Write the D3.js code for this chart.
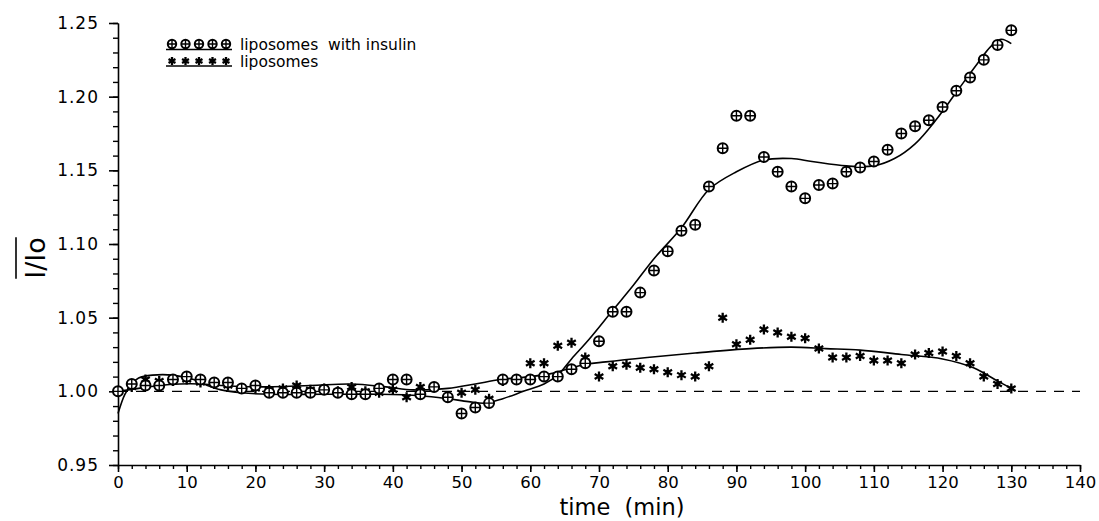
<!DOCTYPE html>
<html><head><meta charset="utf-8">
<script src="https://cdn.jsdelivr.net/npm/d3@7"></script>
<style>
html,body{margin:0;padding:0;background:#fff;}
svg text{font-family:"DejaVu Sans",sans-serif;fill:#000;}
</style></head>
<body><svg id="c" width="1099" height="521"></svg>
<script>
// ---- data ----
const times = d3.range(0, 131, 2);
const insulinValues = [1.000,1.005,1.004,1.004,1.008,1.010,1.008,1.006,1.006,1.002,1.004,0.999,0.999,0.999,0.999,1.001,0.999,0.998,0.998,1.002,1.008,1.008,0.998,1.003,0.996,0.985,0.989,0.992,1.008,1.008,1.008,1.010,1.010,1.015,1.019,1.034,1.054,1.054,1.067,1.082,1.095,1.109,1.113,1.139,1.165,1.187,1.187,1.159,1.149,1.139,1.131,1.140,1.141,1.149,1.152,1.156,1.164,1.175,1.180,1.184,1.193,1.204,1.213,1.225,1.235,1.245];
const liposomeValues = [1.000,1.003,1.008,1.007,1.007,1.008,1.006,1.005,1.004,1.002,1.002,1.001,1.002,1.004,1.001,1.002,1.000,1.003,1.000,0.999,1.001,0.996,1.003,1.003,0.996,0.999,1.001,0.995,1.007,1.008,1.019,1.019,1.031,1.033,1.023,1.010,1.017,1.018,1.016,1.015,1.013,1.011,1.010,1.017,1.050,1.032,1.035,1.042,1.040,1.037,1.036,1.029,1.023,1.023,1.024,1.021,1.021,1.019,1.025,1.026,1.027,1.024,1.019,1.010,1.005,1.002];
const insulinFitT = [0,1,2,3,5,8,11,13,15,18,22,30,38,44,48,51,53.5,56,59,62,64,66,68.5,72,75,78,82,86,90,94,98,101,106,110,113,116,119,122,125,127,128.5,130];
const insulinFitV = [0.985,0.998,1.005,1.009,1.011,1.011,1.008,1.004,1.001,0.999,0.998,0.998,0.998,0.997,0.995,0.993,0.992,0.995,1.000,1.005,1.011,1.022,1.035,1.055,1.072,1.090,1.111,1.137,1.149,1.157,1.158,1.156,1.153,1.153,1.158,1.168,1.184,1.203,1.222,1.234,1.239,1.236];
const liposomeFitT = [0,3,6,9,12,15,20,28,34,39,43,48,52,55.6,60,63,67.7,71,77,84,92,98,103,108,114,120,124.5,128,130];
const liposomeFitV = [1.000,1.002,1.004,1.005,1.005,1.004,1.003,1.004,1.005,1.003,1.001,1.002,1.005,1.008,1.010,1.012,1.018,1.020,1.023,1.026,1.029,1.030,1.029,1.028,1.025,1.022,1.016,1.007,1.002];
const xMajorTicks = d3.range(0, 141, 10);
const xMinorTicks = d3.range(0, 141, 2);
const yMajorTicks = [0.95,1.00,1.05,1.10,1.15,1.20,1.25];
const yMinorTicks = d3.range(95, 126, 1).map(v => v/100);
const seriesNames = ["liposomes  with insulin", "liposomes"];
const xTitle = "time  (min)";
const yTitle = "I/Io";
const baseline = 1.00;

// ---- drawing ----
const svg = d3.select("#c");
const x = d3.scaleLinear([0,140],[118,1080]);
const y = d3.scaleLinear([0.95,1.25],[465,23]);
const ink = "#000";

// axes
const gx = svg.append("g").attr("transform",`translate(0,${y(0.95)})`);
gx.call(d3.axisBottom(x).tickValues(xMinorTicks).tickSize(4).tickSizeOuter(0).tickFormat(""));
gx.selectAll(".tick line").attr("stroke-width",1.4);
const gx2 = svg.append("g").attr("transform",`translate(0,${y(0.95)})`);
gx2.call(d3.axisBottom(x).tickValues(xMajorTicks).tickSize(7).tickSizeOuter(0).tickPadding(4).tickFormat(d3.format("d")));
gx2.select(".domain").attr("stroke-width",1.6);
gx2.selectAll(".tick line").attr("stroke-width",1.6);
gx2.selectAll(".tick text").attr("font-size",16.5).attr("font-family","DejaVu Sans").attr("dy","0.72em");

const gy = svg.append("g").attr("transform",`translate(${x(0)},0)`);
gy.call(d3.axisLeft(y).tickValues(yMinorTicks).tickSize(5).tickSizeOuter(0).tickFormat(""));
gy.selectAll(".tick line").attr("stroke-width",1.4);
const gy2 = svg.append("g").attr("transform",`translate(${x(0)},0)`);
gy2.call(d3.axisLeft(y).tickValues(yMajorTicks).tickSize(9).tickSizeOuter(0).tickPadding(10).tickFormat(d3.format(".2f")));
gy2.select(".domain").attr("stroke-width",1.6);
gy2.selectAll(".tick line").attr("stroke-width",1.6);
gy2.selectAll(".tick text").attr("font-size",17).attr("font-family","DejaVu Sans").attr("letter-spacing","1px");

// dashed baseline
svg.append("line").attr("x1",x(0)).attr("x2",x(140)).attr("y1",y(baseline)).attr("y2",y(baseline))
  .attr("stroke",ink).attr("stroke-width",1.4).attr("stroke-dasharray","10,8");

// fit curves
const line = d3.line().x(d=>x(d[0])).y(d=>y(d[1])).curve(d3.curveCatmullRom.alpha(0.5));
svg.append("path").attr("d", line(insulinFitT.map((t,i)=>[t,insulinFitV[i]])))
  .attr("fill","none").attr("stroke",ink).attr("stroke-width",1.6);
svg.append("path").attr("d", line(liposomeFitT.map((t,i)=>[t,liposomeFitV[i]])))
  .attr("fill","none").attr("stroke",ink).attr("stroke-width",1.6);

// marker makers
function circlePlus(g, cx, cy, r){
  const m = g.append("g").attr("transform",`translate(${cx},${cy})`);
  m.append("circle").attr("r",r).attr("fill","#fff").attr("stroke",ink).attr("stroke-width",2);
  m.append("path").attr("d",`M${-r},0H${r}M0,${-r}V${r}`).attr("stroke",ink).attr("stroke-width",1.4);
}
function asterisk(g, cx, cy, r){
  const m = g.append("g").attr("transform",`translate(${cx},${cy})`);
  let d = "";
  [90,30,150].forEach(a=>{
    const dx = r*Math.cos(a*Math.PI/180), dy = r*Math.sin(a*Math.PI/180);
    d += `M${-dx},${-dy}L${dx},${dy}`;
  });
  m.append("path").attr("d",d).attr("stroke",ink).attr("stroke-width",2.3).attr("stroke-linecap","butt");
}

const gPts = svg.append("g");
times.forEach((t,i)=> asterisk(gPts, x(t), y(liposomeValues[i]), 5));
times.forEach((t,i)=> circlePlus(gPts, x(t), y(insulinValues[i]), 5));

// legend
const lg = svg.append("g");
const lx0 = 172, ldx = 13.5;
for(let k=0;k<5;k++){ circlePlus(lg, lx0+k*ldx, 44, 4.2); }
lg.append("line").attr("x1",166).attr("x2",232).attr("y1",49.5).attr("y2",49.5).attr("stroke",ink).attr("stroke-width",1.3);
for(let k=0;k<5;k++){ asterisk(lg, lx0+k*ldx, 61, 4); }
lg.append("line").attr("x1",166).attr("x2",232).attr("y1",66).attr("y2",66).attr("stroke",ink).attr("stroke-width",1.3);
lg.append("text").attr("x",240).attr("y",50).attr("font-size",15.5).style("white-space","pre").text(seriesNames[0]);
lg.append("text").attr("x",240).attr("y",67).attr("font-size",15.5).text(seriesNames[1]);

// titles
svg.append("text").attr("x",622).attr("y",515).attr("text-anchor","middle").attr("font-size",22.5)
  .style("white-space","pre").text(xTitle);
const yt = svg.append("text").attr("transform","translate(45,258) rotate(-90)").attr("text-anchor","middle")
  .attr("font-size",27).text(yTitle);
const bb = yt.node().getBBox();
svg.append("line").attr("x1",16).attr("x2",16).attr("y1",258-bb.width/2).attr("y2",258+bb.width/2)
  .attr("stroke",ink).attr("stroke-width",1.6);
</script></body></html>
